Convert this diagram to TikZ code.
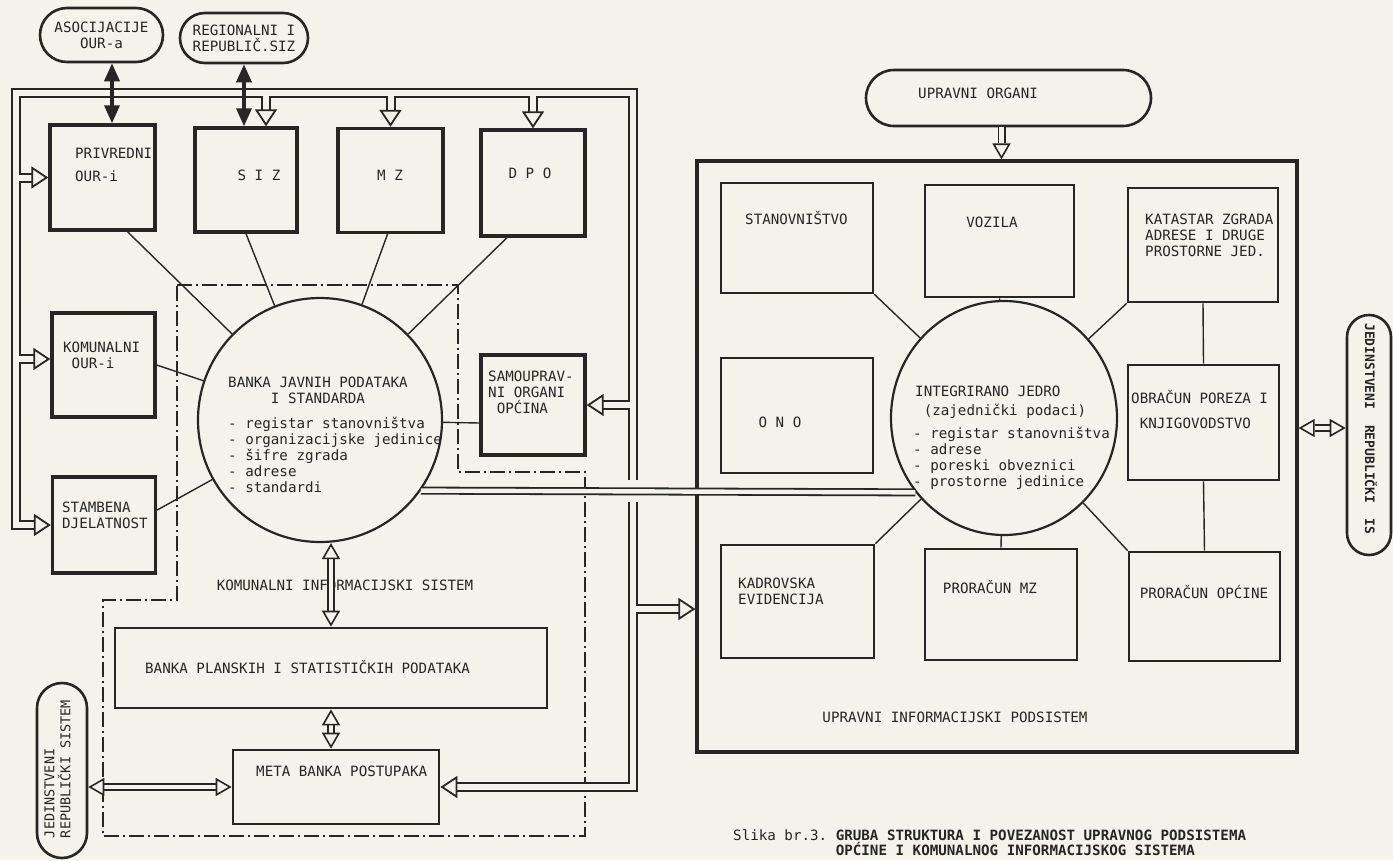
\documentclass[tikz,border=0pt]{standalone}
\usepackage{fontspec}
\setmonofont{DejaVu Sans Mono}
\usetikzlibrary{calc,positioning,arrows.meta,shapes.geometric}
\definecolor{papir}{HTML}{F3F3EB}
\definecolor{tinta}{HTML}{262626}
\newcommand{\slova}{\ttfamily\fontsize{14.2}{16}\selectfont}
\tikzset{
  slovo/.style={font=\slova, inner sep=0pt, text=tinta},
  mala/.style={draw=tinta, line width=3.4pt, inner sep=0pt},
  srednja/.style={draw=tinta, line width=2.7pt, inner sep=0pt},
  velika/.style={draw=tinta, line width=3.2pt, inner sep=0pt},
  ovalni/.style={draw=tinta, line width=2.6pt, inner sep=0pt, align=center, font=\slova, text=tinta},
  krug/.style={circle, draw=tinta, line width=2.2pt, inner sep=0pt},
  veza/.style={draw=tinta, line width=1.4pt},
  crtatocka/.style={draw=tinta, line width=2pt, dash pattern=on 15pt off 4pt on 2pt off 4pt},
  crna/.style={draw=tinta, line width=3.5pt, {Triangle[length=18pt,width=15pt]}-{Triangle[length=18pt,width=15pt]}},
  % sabirnica: tamni sloj, svijetli sloj, glave
  cijevtamna/.style={draw=tinta, line width=10pt, line cap=rect, shorten >=17pt},
  cijevsvijetla/.style={draw=papir, line width=6pt, line cap=rect, shorten >=17pt},
  cijevglava/.style={draw=papir, line width=1.8pt, -{Triangle[length=17pt,width=22pt,color=tinta,fill=papir]}},
  dvezatijelo/.style={draw=tinta, double=papir, double distance=4.4pt, line width=1.8pt},
  glavaobje/.style={draw=papir, line width=1.6pt, {Triangle[length=16pt,width=18pt,color=tinta,fill=papir]}-{Triangle[length=16pt,width=18pt,color=tinta,fill=papir]}},
  glavajedna/.style={draw=papir, line width=1.6pt, -{Triangle[length=16pt,width=18pt,color=tinta,fill=papir]}}
}
\begin{document}
\begin{tikzpicture}[x=1pt,y=-1pt]
  \useasboundingbox (0,0) rectangle (1393,860);
  \fill[papir] (0,0) rectangle (1393,860);
  % komunalni dio
  \node[ovalni, rounded corners=27pt, minimum width=123pt, minimum height=54pt] (asoc) at (101.5,35) {ASOCIJACIJE\\OUR-a};
  \node[ovalni, rounded corners=25pt, minimum width=128pt, minimum height=50pt] (reg) at (244,38) {REGIONALNI I\\REPUBLIČ.SIZ};
  \node[mala, minimum width=105pt, minimum height=105pt] (privr) at (102.5,177.5) {};
  \node[mala, minimum width=102pt, minimum height=104pt] (siz) at (246,180) {};
  \node[mala, minimum width=105pt, minimum height=104pt] (mz) at (390.5,180.5) {};
  \node[mala, minimum width=104pt, minimum height=106pt] (dpo) at (533,183) {};
  \node[mala, minimum width=103pt, minimum height=104pt] (komun) at (103.5,365) {};
  \node[mala, minimum width=103pt, minimum height=96pt] (stamb) at (104,525) {};
  \node[mala, minimum width=104pt, minimum height=100pt] (samo) at (533,405) {};
  \node[krug, minimum size=244pt] (bank) at (320,420) {};
  \node[srednja, minimum width=432pt, minimum height=80pt] (plan) at (331,668) {};
  \node[srednja, minimum width=206pt, minimum height=74pt] (meta) at (336,787) {};
  \node[ovalni, rounded corners=25pt, minimum width=50pt, minimum height=175pt] (jrs) at (62,770.5) {};
  \node[slovo, anchor=west, align=left] (privrtx) at (75,164.5) {PRIVREDNI\\[7pt]OUR-i};
  \node[slovo] (siztx) at (259,175) {S I Z};
  \node[slovo] (mztx) at (390,175) {M Z};
  \node[slovo] (dpotx) at (530,173) {D P O};
  \node[slovo, anchor=west, align=left] (komuntx) at (63,355) {KOMUNALNI\\\phantom{O}OUR-i};
  \node[slovo, anchor=west, align=left] (stambtx) at (62,515) {STAMBENA\\DJELATNOST};
  \node[slovo, anchor=west, align=left] (samotx) at (488,392.5) {SAMOUPRAV-\\NI ORGANI\\\phantom{O}OPĆINA};
  \node[slovo, align=center] (banknasl) at (318,390) {BANKA JAVNIH PODATAKA\\I STANDARDA};
  \node[slovo, anchor=west, align=left] (bankpopis) at (228,454.5) {- registar stanovništva\\- organizacijske jedinice\\- šifre zgrada\\- adrese\\- standardi};
  \node[slovo] (kistx) at (345,585) {KOMUNALNI INFORMACIJSKI SISTEM};
  \node[slovo, anchor=west] (plantx) at (145,667) {BANKA PLANSKIH I STATISTIČKIH PODATAKA};
  \node[slovo, anchor=west] (metatx) at (256,771) {META BANKA POSTUPAKA};
  \node[slovo, rotate=90, align=left, font=\ttfamily\fontsize{13.5}{16}\selectfont] (jrstx) at (57.5,769) {JEDINSTVENI\\REPUBLIČKI SISTEM};
  % upravni dio
  \node[velika, minimum width=600pt, minimum height=591pt] (uis) at (997,456.5) {};
  \node[srednja, minimum width=152pt, minimum height=110pt] (stan) at (797,238) {};
  \node[srednja, minimum width=149pt, minimum height=112pt] (voz) at (999.5,241) {};
  \node[srednja, minimum width=150pt, minimum height=114pt] (kat) at (1203,245) {};
  \node[srednja, minimum width=152pt, minimum height=115pt] (ono) at (797,415.5) {};
  \node[srednja, minimum width=151pt, minimum height=115pt] (obr) at (1203.5,422.5) {};
  \node[srednja, minimum width=153pt, minimum height=113pt] (kadr) at (797.5,601.5) {};
  \node[srednja, minimum width=152pt, minimum height=111pt] (prmz) at (1001,604.5) {};
  \node[srednja, minimum width=151pt, minimum height=109pt] (prop) at (1204.5,606.5) {};
  \node[ellipse, draw=tinta, line width=2.2pt, inner sep=0pt, minimum width=226pt, minimum height=234pt] (integ) at (1004,418) {};
  \node[ovalni, rounded corners=28pt, minimum width=285pt, minimum height=56pt] (uo) at (1008.5,98) {};
  \node[ovalni, rounded corners=22pt, minimum width=44pt, minimum height=240pt] (jri) at (1369,435) {};
  \node[slovo, anchor=west] (uotx) at (918,93) {UPRAVNI ORGANI};
  \node[slovo, anchor=west] (stantx) at (745,218) {STANOVNIŠTVO};
  \node[slovo] (voztx) at (992,222) {VOZILA};
  \node[slovo, anchor=west, align=left] (kattx) at (1145,235) {KATASTAR ZGRADA\\ADRESE I DRUGE\\PROSTORNE JED.};
  \node[slovo] (onotx) at (780,422) {O N O};
  \node[slovo, anchor=west, align=left] (obrtx) at (1131,409.5) {OBRAČUN POREZA I\\[9pt]\phantom{O}KNJIGOVODSTVO};
  \node[slovo, anchor=west, align=left] (kadrtx) at (738,591.5) {KADROVSKA\\EVIDENCIJA};
  \node[slovo] (prmztx) at (990,587) {PRORAČUN MZ};
  \node[slovo] (proptx) at (1204,592) {PRORAČUN OPĆINE};
  \node[slovo] (uistx) at (955,717) {UPRAVNI INFORMACIJSKI PODSISTEM};
  \node[slovo, anchor=west, align=left] (integnasl) at (915,402.5) {INTEGRIRANO JEDRO\\[3pt]\phantom{I}(zajednički podaci)};
  \node[slovo, anchor=west, align=left] (integpopis) at (913,458) {- registar stanovništva\\- adrese\\- poreski obveznici\\- prostorne jedinice};
  \node[slovo, rotate=-90, font=\ttfamily\bfseries\fontsize{13}{15}\selectfont] (jritx) at (1371,429) {JEDINSTVENI\ \ REPUBLIČKI\ \ IS};
  \node[slovo, anchor=west, align=left, font=\ttfamily\fontsize{14.2}{15}\selectfont] (natpis) at (733,842.5) {Slika br.3. \textbf{GRUBA STRUKTURA I POVEZANOST UPRAVNOG PODSISTEMA}\\\phantom{Slika br.3.X}\textbf{OPĆINE I KOMUNALNOG INFORMACIJSKOG SISTEMA}};
  % granica komunalnog sistema
  \draw[crtatocka] (177,285) -- (458,285) -- (458,472) -- (585,472) -- (585,836) -- (103,836) -- (103,600) -- (177,600) -- cycle;
  % tanke veze
  \draw[veza] ($(privr.south)+(25,0)$) -- (bank);
  \draw[veza] (siz.south) -- (bank);
  \draw[veza] ($(mz.south)+(-3,0)$) -- (bank);
  \draw[veza] ($(dpo.south)+(-26,0)$) -- (bank);
  \draw[veza] (komun.east) -- (bank);
  \draw[veza] ($(stamb.east)+(0,-15)$) -- (bank);
  \draw[veza] ($(samo.west)+(0,18)$) -- (bank);
  \draw[veza] (stan.south east) -- (integ);
  \draw[veza] (voz.south) -- (integ);
  \draw[veza] (kat.south west) -- (integ);
  \draw[veza] (kadr.north east) -- (integ);
  \draw[veza] (prmz.north) -- (integ);
  \draw[veza] (prop.north west) -- (integ);
  \draw[veza] (kat.south) -- (obr.north);
  \draw[veza] (obr.south) -- (prop.north);
  % sabirnica
  \coordinate (bTL) at (16,93);
  \coordinate (bTR) at (633,93);
  \coordinate (kA) at ($(komun.west)+(0,-6)$);
  \coordinate (sA) at ($(siz.north)+(20,0)$);
  \coordinate (uA) at ($(uis.west)+(0,152.5)$);
  \foreach \sloj in {cijevtamna,cijevsvijetla,cijevglava}{
    \draw[\sloj] (bTR) |- (meta.east);
    \draw[\sloj] (bTR) -- (bTL) |- (stamb.west);
    \draw[\sloj] (bTL |- privr.west) -- (privr.west);
    \draw[\sloj] (bTL |- kA) -- (kA);
    \draw[\sloj] (bTL -| sA) -- (sA);
    \draw[\sloj] (bTL -| mz.north) -- (mz.north);
    \draw[\sloj] (bTL -| dpo.north) -- (dpo.north);
    \draw[\sloj] (bTR |- samo.east) -- (samo.east);
    \draw[\sloj] (bTR |- uA) -- (uA);
  }
  % crne strelice
  \coordinate (aA) at ($(asoc.south)+(10.5,0)$);
  \draw[crna] (aA) -- (aA |- privr.north);
  \draw[crna] (reg.south) -- (reg.south |- siz.north);
  % dvostruke veze
  \draw[draw=papir, line width=22pt] ($(bTR |- bank.-35)+(-14,0)$) -- ($(bTR |- bank.-35)+(14,0)$);
  \draw[dvezatijelo] (bank.-35) -- (integ.220);
  \coordinate (bA) at ($(bank.south)+(11,0)$);
  \draw[dvezatijelo, shorten <=16pt, shorten >=16pt] (bA) -- (bA |- plan.north);
  \draw[glavaobje] (bA) -- (bA |- plan.north);
  \draw[dvezatijelo, shorten <=16pt, shorten >=16pt] (plan.south) -- (plan.south |- meta.north);
  \draw[glavaobje] (plan.south) -- (plan.south |- meta.north);
  \draw[dvezatijelo, shorten <=16pt, shorten >=16pt] (jrs.east |- meta.west) -- (meta.west);
  \draw[glavaobje] (jrs.east |- meta.west) -- (meta.west);
  \coordinate (oA) at ($(uo.south)+(-7,0)$);
  \draw[dvezatijelo, shorten >=16pt] (oA) -- (oA |- uis.north);
  \draw[glavajedna] (oA) -- (oA |- uis.north);
  \coordinate (jA) at ($(jri.west)+(0,-7)$);
  \draw[dvezatijelo, shorten <=16pt, shorten >=16pt] (jA -| uis.east) -- (jA);
  \draw[glavaobje] (jA -| uis.east) -- (jA);
\end{tikzpicture}
\end{document}
